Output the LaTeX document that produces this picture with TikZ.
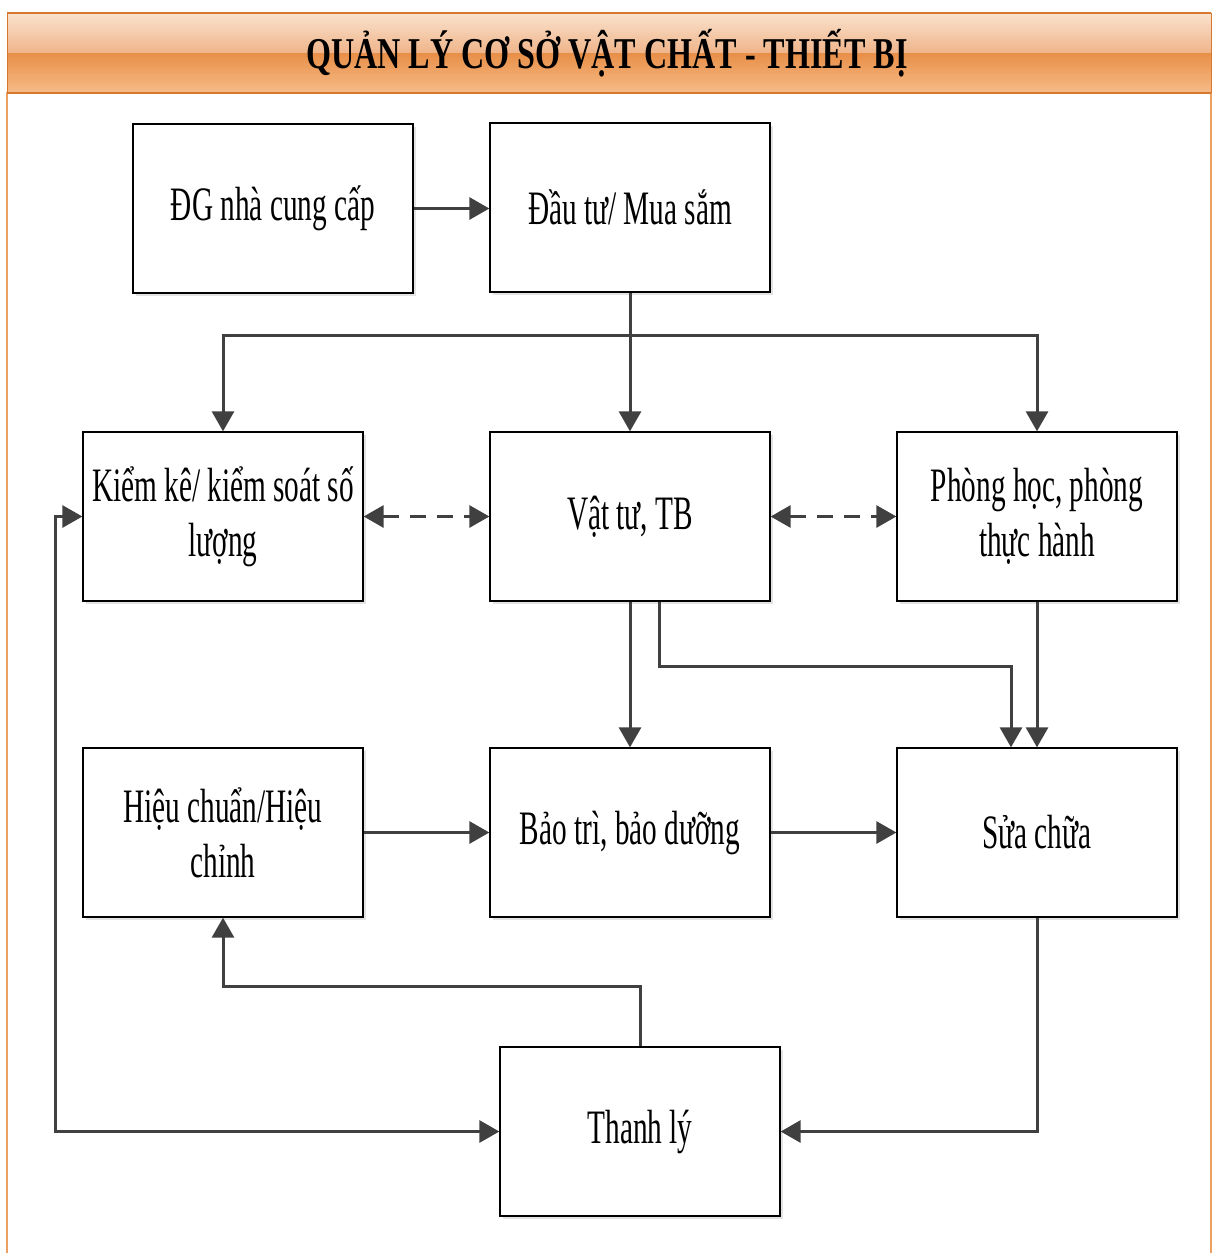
\documentclass[tikz,border=0pt]{standalone}
\usepackage{fontspec}
\usetikzlibrary{arrows.meta,shadows}
\newfontfamily\bodyfont[FakeStretch=0.61]{Liberation Serif}
\newfontfamily\headfont[FakeStretch=0.73]{Liberation Serif}

\definecolor{linegrey}{HTML}{404040}
\definecolor{frameorange}{HTML}{E9A060}
\definecolor{bandedge}{HTML}{D7782E}
\definecolor{bandtop}{HTML}{FAE2CD}
\definecolor{bandmidlight}{HTML}{EFB48A}
\definecolor{bandmiddark}{HTML}{E88F48}
\definecolor{bandbottom}{HTML}{F7BC88}

\tikzset{
  boxshape/.style={draw=black, line width=1.3pt, fill=white,
    minimum width=280pt, minimum height=169pt, inner sep=0pt,
    font=\bodyfont\fontsize{48}{55}\selectfont, align=center,
    drop shadow={shadow xshift=3pt, shadow yshift=-3pt, fill=black!18, opacity=.6}},
  conn/.style={draw=linegrey, line width=3pt},
  tip/.style={-{Triangle[length=20pt,width=22pt]}},
  bitip/.style={{Triangle[length=20pt,width=22pt]}-{Triangle[length=20pt,width=22pt]}},
  dashconn/.style={conn, dash pattern=on 16pt off 11pt},
}

\begin{document}
\begin{tikzpicture}[x=1pt,y=-1pt]
\useasboundingbox (0,0) rectangle (1213,1253);

% outer frame
\draw[frameorange, line width=1.5pt] (7,92) -- (7,1253);
\draw[frameorange, line width=1.5pt] (1211,92) -- (1211,1253);

% title band
\shade[top color=bandtop, bottom color=bandmidlight] (7,13) rectangle (1211,53);
\shade[top color=bandmiddark, bottom color=bandbottom] (7,53) rectangle (1211,93);
\node[font=\headfont\bfseries\fontsize{44}{50}\selectfont, inner sep=0pt] (title) at (607,53) {QUẢN LÝ CƠ SỞ VẬT CHẤT - THIẾT BỊ};
\draw[bandedge, line width=2.5pt] (7,13) -- (1211,13);
\draw[bandedge, line width=2.5pt] (7,93) -- (1211,93);
\draw[bandedge, line width=1pt] (7,13) -- (7,93) (1211,13) -- (1211,93);

% boxes
\node[boxshape] (dg) at (273,208.5) {ĐG nhà cung cấp};
\node[boxshape] (dt) at (630,207.5) {Đầu tư/ Mua sắm};
\node[boxshape] (kk) at (223,516.5) {Kiểm kê/ kiểm soát số\\lượng};
\node[boxshape] (vt) at (630,516.5) {Vật tư, TB};
\node[boxshape] (ph) at (1037,516.5) {Phòng học, phòng\\thực hành};
\node[boxshape] (hc) at (223,832.5) {Hiệu chuẩn/Hiệu\\chỉnh};
\node[boxshape] (bt) at (630,832.5) {Bảo trì, bảo dưỡng};
\node[boxshape] (sc) at (1037,832.5) {Sửa chữa};
\node[boxshape] (tl) at (640,1131.5) {Thanh lý};

% connectors
\draw[conn,tip] (dg.east) -- (dg.east -| dt.west);
\coordinate (split) at (630,335);
\draw[conn,tip] (dt.south) -- (vt.north);
\draw[conn,tip] (split) -| (kk.north);
\draw[conn,tip] (split) -| (ph.north);

\draw[dashconn,bitip] (kk.east) -- (vt.west);
\draw[dashconn,bitip] (vt.east) -- (ph.west);

\draw[conn,tip] (vt.south) -- (bt.north);
\draw[conn,tip] ([xshift=29pt]vt.south) -- ++(0,65) -| ([xshift=-26pt]sc.north);
\draw[conn,tip] (ph.south) -- (sc.north);

\draw[conn,tip] (hc.east) -- (bt.west);
\draw[conn,tip] (bt.east) -- (sc.west);

\draw[conn,tip] (tl.north) -- ++(0,-60) -| (hc.south);
\draw[conn,tip] (sc.south) |- (tl.east);
\draw[conn,bitip] (kk.west) -- (55,516.5) -- (55,1131.5) -- (tl.west);
\end{tikzpicture}
\end{document}
